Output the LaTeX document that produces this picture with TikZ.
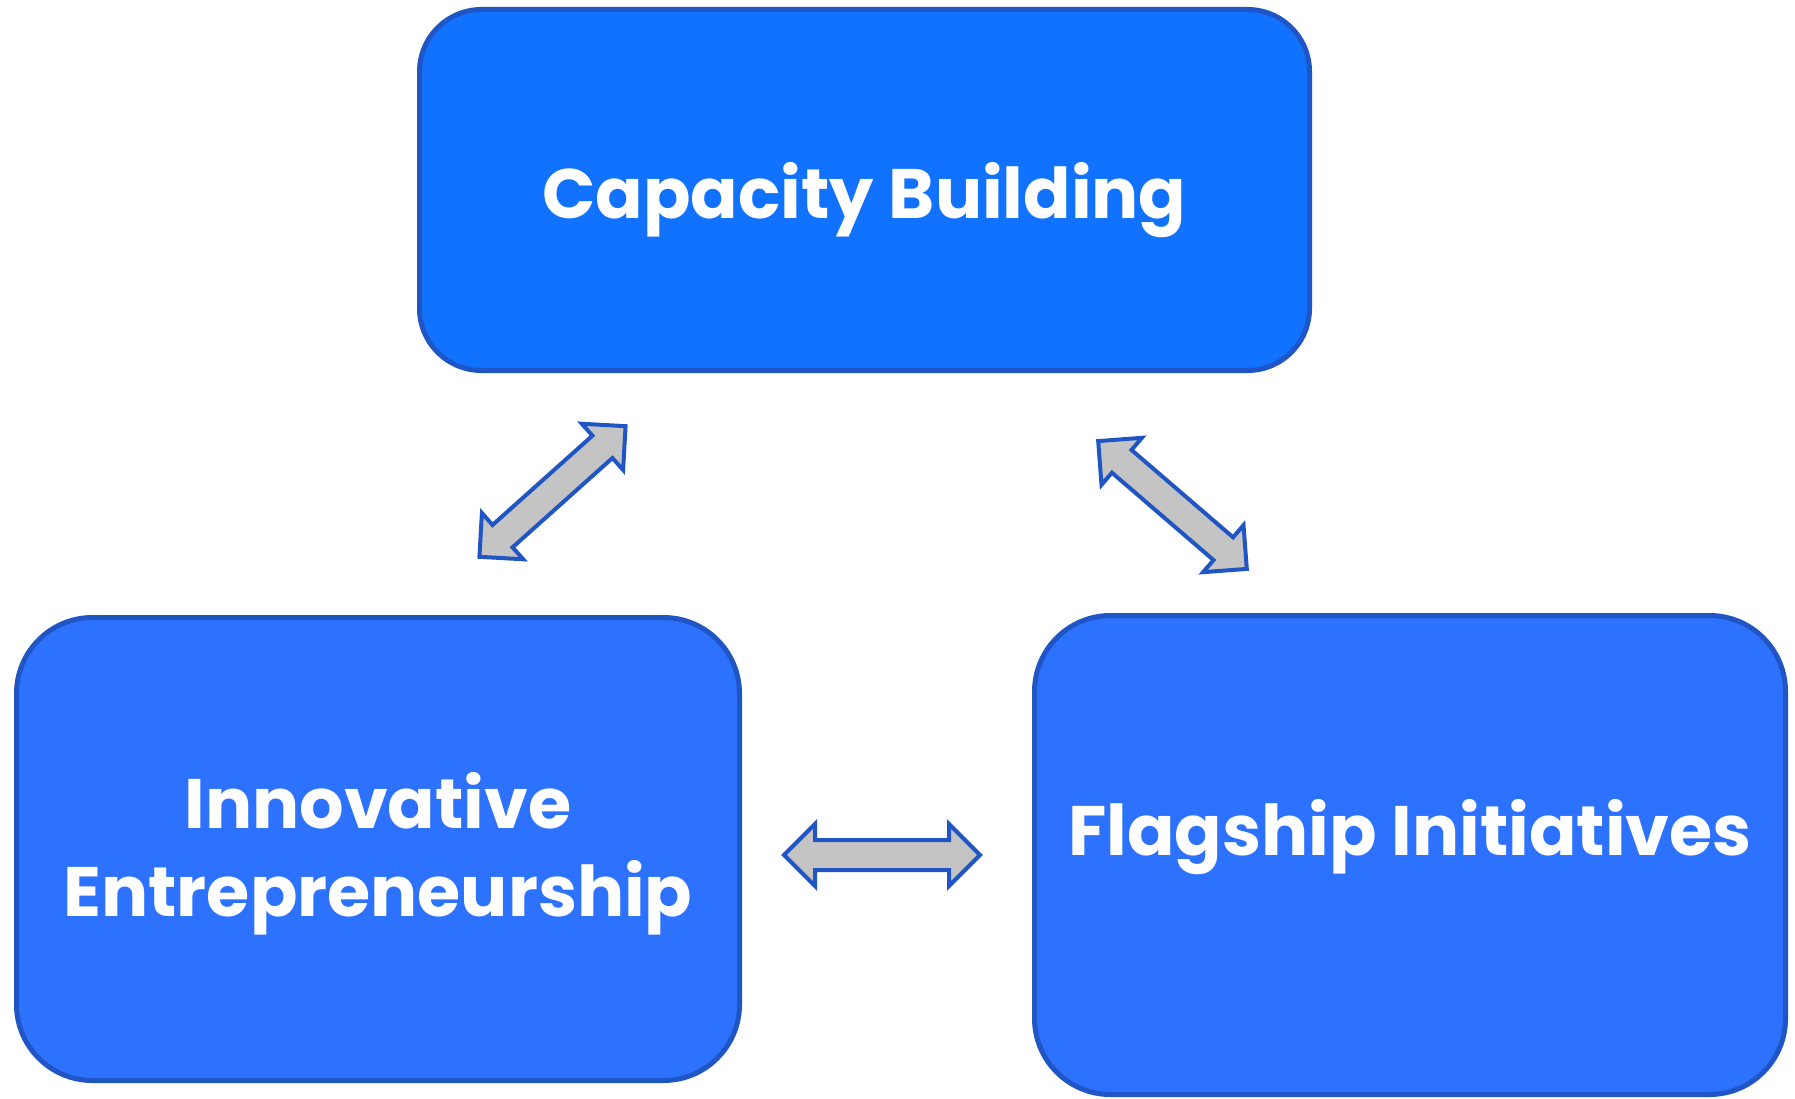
\documentclass[tikz,border=0pt]{standalone}
\usepackage{fontspec}
\newfontfamily\boxfont{Poppins}
\usetikzlibrary{positioning, shapes.arrows}
\definecolor{edgeblue}{HTML}{1F55C4}
\definecolor{topblue}{HTML}{1072FF}
\definecolor{lowblue}{HTML}{2D72FF}
\definecolor{arrowgray}{HTML}{C4C4C4}

\begin{document}
\begin{tikzpicture}[
		x=1pt, y=-1pt,
		label text/.style={text=white, align=center, font=\boxfont\bfseries\fontsize{70}{88}\selectfont},
		block/.style={draw=edgeblue, line width=5pt, rectangle, rounded corners=62pt},
		link/.style={draw=edgeblue, fill=arrowgray, line width=4pt, double arrow, double arrow tip angle=90, double arrow head extend=16pt, inner sep=13pt, minimum height=196pt, minimum width=62pt},
	]
	\useasboundingbox (0,0) rectangle (1795,1099);

	% the three boxes
	\node[block, fill=topblue, minimum width=890pt, minimum height=361pt] (capacity) at (864.5,190) {};
	\node[block, fill=lowblue, minimum width=723pt, minimum height=463pt, rounded corners=76pt] (innov) at (378,849) {};
	\node[block, fill=lowblue, minimum width=751pt, minimum height=479pt, rounded corners=76pt] (flag) at (1410,855) {};

	\node[label text] (capacitytext) at (864.5,200) {Capacity Building};
	\node[label text] (innovtext) at (378,854) {Innovative\\Entrepreneurship};
	\node[label text] (flagtext) at (1410,837) {Flagship Initiatives};

	% block arrows between them
	\node[link, rotate=41.8] (ci) at (552.5,491.5) {};
	\node[link, rotate=-40.7] (cf) at (1172.5,505) {};
	\node[link] (if) at (882,855) {};
\end{tikzpicture}
\end{document}
